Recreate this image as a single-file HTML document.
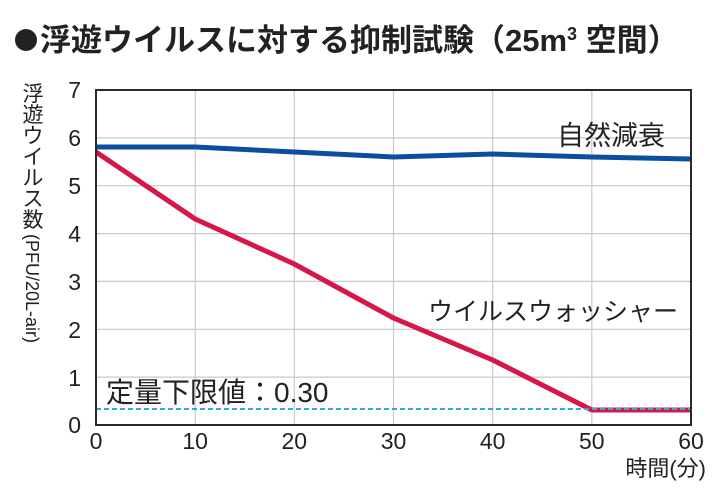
<!DOCTYPE html>
<html><head><meta charset="utf-8"><style>
body{margin:0;background:#fff;}
svg{display:block;font-family:"Liberation Sans","Noto Sans CJK JP",sans-serif;}
</style></head><body>
<svg width="720" height="500" viewBox="0 0 720 500">
<circle cx="26" cy="40" r="11" fill="#222"/>
<text x="40" y="51" font-size="31" font-weight="bold" fill="#222">浮遊ウイルスに対する抑制試験（25m<tspan font-size="18" dy="-11">3</tspan><tspan dy="11"> 空間）</tspan></text>
<g stroke="#c8c8c8" stroke-width="1.2">
<line x1="96" y1="137.9" x2="691" y2="137.9"/><line x1="96" y1="185.7" x2="691" y2="185.7"/>
<line x1="96" y1="233.6" x2="691" y2="233.6"/><line x1="96" y1="281.4" x2="691" y2="281.4"/>
<line x1="96" y1="329.3" x2="691" y2="329.3"/><line x1="96" y1="377.1" x2="691" y2="377.1"/>
<line x1="195.2" y1="90" x2="195.2" y2="425"/><line x1="294.3" y1="90" x2="294.3" y2="425"/>
<line x1="393.5" y1="90" x2="393.5" y2="425"/><line x1="492.7" y1="90" x2="492.7" y2="425"/>
<line x1="591.8" y1="90" x2="591.8" y2="425"/>
</g>
<polyline points="96,152 195.2,219 294.3,264 393.5,318 492.7,360 591.8,410 691,410" fill="none" stroke="#d5174a" stroke-width="5" stroke-linejoin="round"/>
<line x1="96" y1="409" x2="691" y2="409" stroke="#29a9e6" stroke-width="2" stroke-dasharray="5,3"/>
<polyline points="96,147 195.2,147 294.3,152 393.5,157 492.7,154 591.8,157 691,159" fill="none" stroke="#0a4fa0" stroke-width="5" stroke-linejoin="round"/>
<rect x="96" y="90" width="595" height="335" fill="none" stroke="#2a2a2a" stroke-width="2"/>
<g font-size="23" fill="#222" text-anchor="end">
<text x="81" y="98">7</text><text x="81" y="146">6</text><text x="81" y="194">5</text>
<text x="81" y="242">4</text><text x="81" y="290">3</text><text x="81" y="338">2</text>
<text x="81" y="386">1</text><text x="81" y="433">0</text>
</g>
<g font-size="23" fill="#222" text-anchor="middle">
<text x="96" y="449">0</text><text x="195.2" y="449">10</text><text x="294.3" y="449">20</text>
<text x="393.5" y="449">30</text><text x="492.7" y="449">40</text><text x="591.8" y="449">50</text><text x="691" y="449">60</text>
</g>
<text x="706" y="476" font-size="22" fill="#222" text-anchor="end">時間(分)</text>
<text x="557" y="145" font-size="27" fill="#222">自然減衰</text>
<text x="428" y="320" font-size="25" fill="#222">ウイルスウォッシャー</text>
<text x="106" y="402" font-size="28" fill="#222">定量下限値：0.30</text>
<g font-size="21" fill="#222" text-anchor="middle">
<text x="33" y="101">浮</text><text x="33" y="122">遊</text><text x="33" y="143">ウ</text>
<text x="33" y="164">イ</text><text x="33" y="185">ル</text><text x="33" y="206">ス</text><text x="33" y="227">数</text>
</g>
<text transform="translate(26,234) rotate(90)" font-size="18" fill="#222">(PFU/20L-air)</text>
</svg>
</body></html>
